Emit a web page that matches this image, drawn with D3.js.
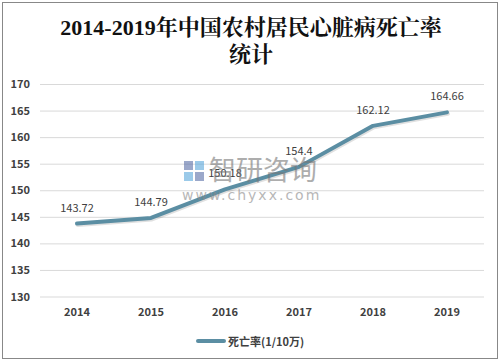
<!DOCTYPE html>
<html><head><meta charset="utf-8">
<script src="https://cdn.jsdelivr.net/npm/d3@7"></script>
<style>body{margin:0;background:#fff}svg{display:block}</style>
</head><body><svg id="c" width="502" height="364"></svg>
<script>
const years = ["2014","2015","2016","2017","2018","2019"];
const rates = [143.72, 144.79, 150.18, 154.4, 162.12, 164.66];
const labels = ["143.72","144.79","150.18","154.4","162.12","164.66"];
const yTicks = [130,135,140,145,150,155,160,165,170];
const titleLines = ["2014-2019年中国农村居民心脏病死亡率","统计"];
const seriesName = "死亡率(1/10万)";

const svg = d3.select("#c");
svg.append("rect").attr("x",2.5).attr("y",2.5).attr("width",495).attr("height",356)
  .attr("fill","#fff").attr("stroke","#888").attr("stroke-width",1);

const x = d3.scaleBand().domain(years).range([40,484]);
const y = d3.scaleLinear().domain([130,170]).range([296.5,84]);

svg.append("g").selectAll("text").data(titleLines).join("text")
  .attr("x",251).attr("y",(d,i)=>35+i*27).attr("text-anchor","middle")
  .attr("font-family","'Liberation Serif','Noto Serif CJK SC','Noto Sans CJK SC',serif")
  .attr("font-weight","bold").attr("font-size",22).attr("fill","#111").text(d=>d);

const sans = "'Noto Sans CJK SC','Open Sans','DejaVu Sans',sans-serif";
const yAxis = svg.append("g").attr("transform","translate(40,0)")
  .call(d3.axisLeft(y).tickValues(yTicks).tickSize(-444).tickPadding(10));
yAxis.select(".domain").remove();
yAxis.selectAll("line").attr("stroke","#d9d9d9");
yAxis.selectAll("text").attr("font-family",sans).attr("font-weight","bold")
  .attr("font-size",11).attr("fill","#404040");

const xAxis = svg.append("g").attr("transform","translate(0,296.5)")
  .call(d3.axisBottom(x).tickSize(0).tickPadding(12));
xAxis.select(".domain").remove();
xAxis.selectAll("text").attr("font-family",sans).attr("font-weight","bold")
  .attr("font-size",11).attr("fill","#404040");

const pts = years.map((yr,i)=>[x(yr)+x.bandwidth()/2, y(rates[i])]);
const line = d3.line();
svg.append("path").attr("d",line(pts.map(p=>[p[0]+1,p[1]+1.5]))).attr("fill","none")
  .attr("stroke","#000").attr("stroke-opacity",0.12).attr("stroke-width",4)
  .attr("stroke-linejoin","round").attr("stroke-linecap","round");
svg.append("path").attr("d",line(pts)).attr("fill","none")
  .attr("stroke","#5b8ea3").attr("stroke-width",4)
  .attr("stroke-linejoin","round").attr("stroke-linecap","round");

svg.append("g").selectAll("text").data(labels).join("text")
  .attr("x",(d,i)=>pts[i][0]).attr("y",(d,i)=>pts[i][1]-12)
  .attr("text-anchor","middle").attr("font-family",sans).attr("font-size",11)
  .attr("fill","#404040").text(d=>d);

// watermark
const wm = svg.append("g").attr("opacity",0.6);
wm.append("rect").attr("x",184).attr("y",161).attr("width",9).attr("height",9).attr("fill","#5a6fa8");
wm.append("rect").attr("x",195).attr("y",161).attr("width",9).attr("height",9).attr("fill","#5aa8dc");
wm.append("rect").attr("x",184).attr("y",172).attr("width",9).attr("height",9).attr("fill","#5aa8dc");
wm.append("rect").attr("x",195).attr("y",172).attr("width",9).attr("height",9).attr("fill","#5a6fa8");
wm.append("text").attr("x",209).attr("y",180).attr("font-family",sans).attr("font-size",27)
  .attr("fill","#777").text("智研咨询");
wm.append("text").attr("x",182).attr("y",200).attr("font-family","'DejaVu Sans',sans-serif")
  .attr("font-size",14).attr("letter-spacing",2).attr("fill","#888").text("www.chyxx.com");

// legend
const lg = svg.append("g");
lg.append("line").attr("x1",198).attr("x2",224).attr("y1",341).attr("y2",341)
  .attr("stroke","#5b8ea3").attr("stroke-width",4).attr("stroke-linecap","round");
lg.append("text").attr("x",228).attr("y",345.5).attr("font-family",sans)
  .attr("font-weight","bold").attr("font-size",11).attr("fill","#404040").text(seriesName);
</script></body></html>
